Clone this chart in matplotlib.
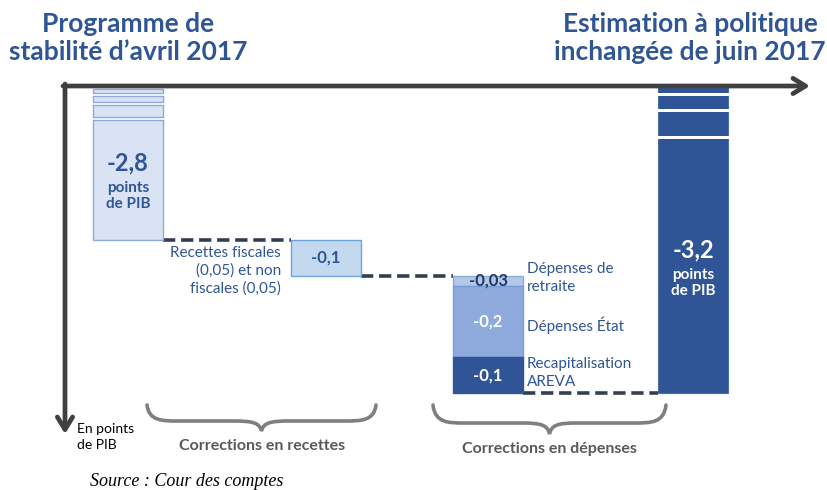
import matplotlib
matplotlib.use("Agg")
import matplotlib.pyplot as plt
from matplotlib.path import Path
from matplotlib.patches import PathPatch, Rectangle

# ---------------- data ----------------
start_value = -2.8
start_label = "-2,8"
step_names = ["Recettes fiscales", "Dépenses de retraite", "Dépenses État", "Recapitalisation AREVA"]
step_values = [-0.1, -0.03, -0.2, -0.1]
step_labels = ["-0,1", "-0,03", "-0,2", "-0,1"]
end_value = -3.2
end_label = "-3,2"

# ---------------- layout ----------------
W, H = 827, 490
BLUE = "#2f5597"
DARK = "#404040"
PX_PER_UNIT = 356.0          # visual scale of the schematic (pixels per point of GDP)
REF_PIX, REF_VAL = 240.0, start_value


def val(p):
    return REF_VAL - (p - REF_PIX) / PX_PER_UNIT


fig = plt.figure(figsize=(W / 100, H / 100), dpi=100)
ax = fig.add_axes([0, 0, 1, 1])
ax.set_xlim(0, W)
ax.set_ylim(val(H), val(0))
ax.axis("off")

deco = fig.add_axes([0, 0, 1, 1])
deco.set_xlim(0, W)
deco.set_ylim(H, 0)
deco.axis("off")
deco.patch.set_alpha(0)

bar_w = 70
x_start, x_rec, x_dep, x_end = 128, 326, 488, 693
AXIS_Y = 86
top_start = val(89)   # broken top of the start bar
top_end = val(85)     # broken top of the final bar

# start bar (broken)
ax.bar(x_start, start_value - top_start, bottom=top_start, width=bar_w,
       color="#dae3f3", edgecolor="#8eaadb", linewidth=1.0, zorder=2)

# steps
cum = start_value
step_x = [x_rec, x_dep, x_dep, x_dep]
step_fc = ["#c2d9f0", "#b4c7e7", "#8faadc", BLUE]
step_ec = ["#6fa4d8", "#8eaadb", "#7b9bd4", BLUE]
step_tc = [BLUE, "#1f3864", "white", "white"]
step_bounds = []
for xs, v, fc, ec in zip(step_x, step_values, step_fc, step_ec):
    ax.bar(xs, v, bottom=cum, width=bar_w, color=fc, edgecolor=ec, linewidth=1.0, zorder=2)
    step_bounds.append((cum, cum + v))
    cum += v
final_bottom = cum

# final bar (broken)
ax.bar(x_end, final_bottom - top_end, bottom=top_end, width=bar_w,
       color=BLUE, edgecolor="#4a6fa5", linewidth=0.8, zorder=2)

# dashed connectors
dash_kw = dict(color="#333f50", linewidth=2.6, linestyle=(0, (3.4, 1.6)), zorder=1)
ax.plot([x_start + bar_w / 2, x_rec - bar_w / 2], [start_value, start_value], **dash_kw)
ax.plot([x_rec + bar_w / 2, x_dep - bar_w / 2], [step_bounds[0][1]] * 2, **dash_kw)
ax.plot([x_dep + bar_w / 2, x_end - bar_w / 2], [final_bottom] * 2, **dash_kw)

# break gaps (white bands)
def gaps(xc, pairs, edge):
    for (a, b) in pairs:
        deco.add_patch(Rectangle((xc - bar_w / 2 - 2, a), bar_w + 4, b - a,
                                 facecolor="white", edgecolor="none", zorder=3))
        if edge:
            for yy in (a, b):
                deco.plot([xc - bar_w / 2, xc + bar_w / 2], [yy, yy], color=edge, lw=1.0, zorder=4)

gaps(x_start, [(93, 96), (102, 105), (117, 120)], "#8eaadb")
gaps(x_end, [(93, 96), (109, 112), (136, 139)], None)

# axes arrows
deco.annotate("", xy=(810, AXIS_Y), xytext=(63, AXIS_Y),
              arrowprops=dict(arrowstyle="->,head_length=0.9,head_width=0.55", color=DARK, lw=3.4,
                              shrinkA=0, shrinkB=0), zorder=5)
deco.annotate("", xy=(65, 434), xytext=(65, AXIS_Y - 2),
              arrowprops=dict(arrowstyle="->,head_length=0.9,head_width=0.55", color=DARK, lw=3.4,
                              shrinkA=0, shrinkB=0), zorder=5)

FONT = "Lato"
# titles
deco.text(128, 38, "Programme de\nstabilité d’avril 2017", ha="center", va="center",
          fontsize=19, fontweight="bold", color=BLUE, family=FONT, linespacing=1.2)
deco.text(690, 38, "Estimation à politique\ninchangée de juin 2017", ha="center", va="center",
          fontsize=19, fontweight="bold", color=BLUE, family=FONT, linespacing=1.2)

# bar labels
deco.text(x_start, 163, start_label, ha="center", va="center", fontsize=17, fontweight="bold",
          color=BLUE, family=FONT)
deco.text(x_start, 196, "points\nde PIB", ha="center", va="center", fontsize=11, fontweight="bold",
          color=BLUE, family=FONT, linespacing=1.25)
deco.text(x_end, 250, end_label, ha="center", va="center", fontsize=17, fontweight="bold",
          color="white", family=FONT)
deco.text(x_end, 283, "points\nde PIB", ha="center", va="center", fontsize=11, fontweight="bold",
          color="white", family=FONT, linespacing=1.25)

for (b0, b1), xs, lab, tc in zip(step_bounds, step_x, step_labels, step_tc):
    ax.text(xs, (b0 + b1) / 2, lab, ha="center", va="center", fontsize=12, fontweight="bold",
            color=tc, family=FONT, zorder=6)

# annotations
deco.text(281, 271, "Recettes fiscales\n(0,05) et non\nfiscales (0,05)", ha="right", va="center",
          fontsize=11, color=BLUE, family=FONT, linespacing=1.3)
deco.text(527, 278, "Dépenses de\nretraite", ha="left", va="center",
          fontsize=11, color=BLUE, family=FONT, linespacing=1.3)
deco.text(527, 325, "Dépenses État", ha="left", va="center",
          fontsize=11, color=BLUE, family=FONT)
deco.text(527, 373, "Recapitalisation\nAREVA", ha="left", va="center",
          fontsize=11, color=BLUE, family=FONT, linespacing=1.3)

deco.text(77, 437, "En points\nde PIB", ha="left", va="center", fontsize=10, color="black",
          family=FONT, linespacing=1.4)


# braces
def brace(x0, x1, y0, ym, ytip):
    xc = (x0 + x1) / 2
    verts = [(x0, y0),
             (x0 + 2, ym), (x0 + 15, ym), (x0 + 32, ym),
             (xc - 28, ym),
             (xc - 8, ym), (xc - 2, ym + 2), (xc, ytip),
             (xc + 2, ym + 2), (xc + 8, ym), (xc + 28, ym),
             (x1 - 32, ym),
             (x1 - 15, ym), (x1 - 2, ym), (x1, y0)]
    codes = [Path.MOVETO, Path.CURVE4, Path.CURVE4, Path.CURVE4, Path.LINETO,
             Path.CURVE4, Path.CURVE4, Path.CURVE4, Path.CURVE4, Path.CURVE4, Path.CURVE4,
             Path.LINETO, Path.CURVE4, Path.CURVE4, Path.CURVE4]
    deco.add_patch(PathPatch(Path(verts, codes), facecolor="none", edgecolor="#7f7f7f", lw=2.6,
                             capstyle="round"))

brace(147, 376, 405, 421, 431)
brace(433, 666, 405, 423, 434)

deco.text(262, 446, "Corrections en recettes", ha="center", va="center", fontsize=11.5,
          fontweight="bold", color="#595959", family=FONT)
deco.text(549, 449, "Corrections en dépenses", ha="center", va="center", fontsize=11.5,
          fontweight="bold", color="#595959", family=FONT)

deco.text(90, 481, "Source : Cour des comptes", ha="left", va="center", fontsize=13,
          style="italic", color="black", family="Liberation Serif")

fig.savefig("out.png", dpi=100)
